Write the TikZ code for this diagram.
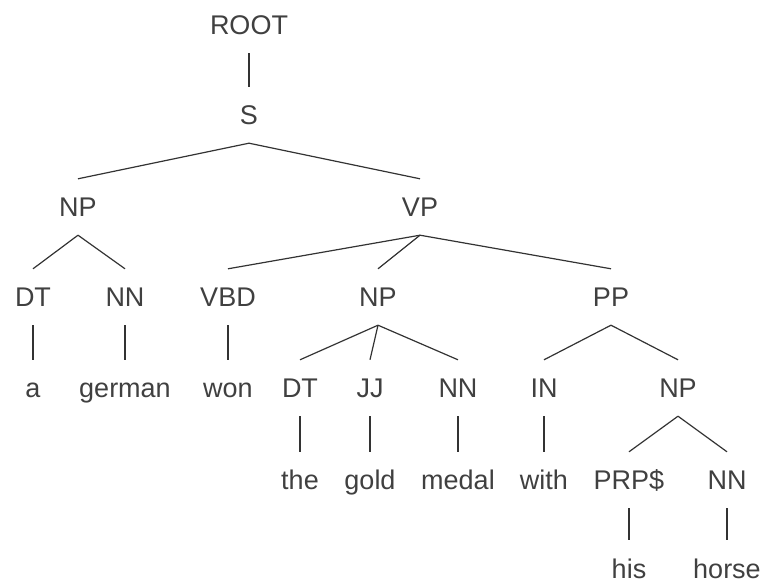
\documentclass[tikz,border=0pt]{standalone}
\usepackage{fontspec}
\setmainfont{Liberation Sans}
\usepackage{tikz}

\begin{document}
\begin{tikzpicture}[
        x=1pt, y=-1pt,
        lbl/.style={font=\fontsize{27}{30}\selectfont, text=black!75,
            text height=20pt, text depth=0pt, inner xsep=2pt, inner ysep=18pt},
        branch/.style={black!80, line width=1.2pt}
    ]
    \useasboundingbox (0,0) rectangle (764,585);
    % one row of the tree per line
    \foreach \n/\x/\y/\t in {
            root/249/25/ROOT,
            s/249/115/S,
            np/78/207/NP, vp/420/207/VP,
            dta/33/297/DT, nna/125/297/NN, vbd/228/297/VBD, npb/378/297/NP, pp/611/297/PP,
            a/33/388/a, german/125/388/german, won/228/388/won,
            dtb/300/388/DT, jj/370/388/JJ, nnb/458/388/NN, prep/544/388/IN, npc/678/388/NP,
            the/300/480/the, gold/370/480/gold, medal/458/480/medal, with/544/480/with,
            prp/629/480/{PRP\$}, nnc/727/480/NN,
            his/629/568/his, horse/727/568/horse} {
        \node[lbl] (\n) at (\x,\y) {\t};
    }
    % branches, parent to child
    \foreach \p/\c in {root/s, s/np, s/vp, np/dta, np/nna, vp/vbd, vp/npb, vp/pp,
            dta/a, nna/german, vbd/won, npb/dtb, npb/jj, npb/nnb, pp/prep, pp/npc,
            dtb/the, jj/gold, nnb/medal, prep/with, npc/prp, npc/nnc,
            prp/his, nnc/horse} {
        \draw[branch] (\p.south) -- (\c.north);
    }
\end{tikzpicture}
\end{document}
